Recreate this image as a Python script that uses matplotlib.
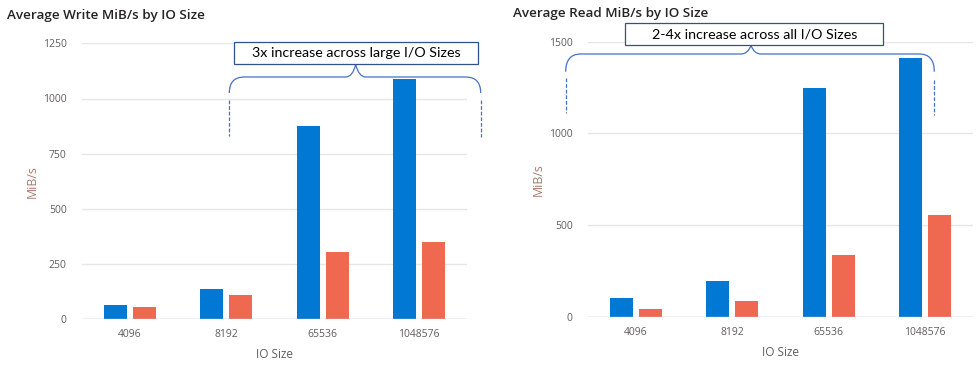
import matplotlib
matplotlib.use("Agg")
import matplotlib.pyplot as plt
import numpy as np
from matplotlib.path import Path
from matplotlib.patches import PathPatch, Rectangle

# data
io_sizes = ['4096', '8192', '65536', '1048576']
write_new = [65, 137, 875, 1088]
write_old = [56, 110, 305, 350]
read_new = [104, 196, 1248, 1411]
read_old = [44, 87, 338, 556]

BLUE = '#0078d4'
CORAL = '#ef6950'
GRID = '#e6e6e6'
TICK = '#605e5c'
W, H = 979, 373

plt.rcParams['font.family'] = ['Open Sans', 'DejaVu Sans']


def px(x0, y_top, x1, y_bot):
    # pixel box -> figure fraction rect
    return [x0 / W, 1 - y_bot / H, (x1 - x0) / W, (y_bot - y_top) / H]


def bar_chart(ax, new, old, ymax, step):
    x = np.arange(len(io_sizes))
    ax.bar(x - 0.15, new, width=0.24, color=BLUE, zorder=3)
    ax.bar(x + 0.15, old, width=0.24, color=CORAL, zorder=3)
    ax.set_xlim(-0.5, len(io_sizes) - 0.5)
    ax.set_ylim(0, ymax)
    ax.set_yticks(np.arange(0, ymax + 1, step))
    ax.set_xticks(x)
    ax.set_xticklabels(io_sizes)
    ax.tick_params(axis='both', length=0, colors=TICK, labelsize=7.5)
    ax.tick_params(axis='y', pad=11)
    ax.tick_params(axis='x', pad=7)
    ax.grid(axis='y', color=GRID, lw=1, zorder=0)
    for s in ax.spines.values():
        s.set_visible(False)
    ax.axhline(0, color='#c8c8dc', lw=1, zorder=4)
    ax.set_xlabel('IO Size', color=TICK, fontsize=8.5, labelpad=6)
    ax.set_ylabel('MiB/s', color='#a8786c', fontsize=8.8, labelpad=3)


fig = plt.figure(figsize=(W / 100, H / 100), dpi=100)
ax1 = fig.add_axes(px(82, 43.3, 467, 319.3))
bar_chart(ax1, write_new, write_old, 1250, 250)
ax2 = fig.add_axes(px(588, 41.7, 973, 317))
bar_chart(ax2, read_new, read_old, 1500, 500)

fig.text(7 / W, 1 - 16 / H, 'Average Write MiB/s by IO Size', fontsize=9.7,
         color='#252423', va='center', ha='left', fontweight='semibold')
fig.text(512.7 / W, 1 - 14 / H, 'Average Read MiB/s by IO Size', fontsize=9.7,
         color='#252423', va='center', ha='left', fontweight='semibold')

# overlay in pixel coords for the callouts
ov = fig.add_axes([0, 0, 1, 1], zorder=10)
ov.set_xlim(0, W)
ov.set_ylim(H, 0)
ov.axis('off')
ov.patch.set_alpha(0)


def brace(x0, x1, xm, y_h, y_peak, y_end, dash_left, dash_right, r=15):
    verts = [(x0, y_end), (x0, y_h), (x0 + r, y_h),
             (xm - 10, y_h), (xm - 3, y_h), (xm, y_peak),
             (xm + 3, y_h), (xm + 10, y_h),
             (x1 - r, y_h), (x1, y_h), (x1, y_end)]
    codes = [Path.MOVETO, Path.CURVE3, Path.CURVE3,
             Path.LINETO, Path.CURVE3, Path.CURVE3,
             Path.CURVE3, Path.CURVE3,
             Path.LINETO, Path.CURVE3, Path.CURVE3]
    ov.add_patch(PathPatch(Path(verts, codes), fc='none', ec='#4472c4', lw=0.9))
    for xx, (t, b) in zip((x0, x1), (dash_left, dash_right)):
        ov.plot([xx, xx], [t, b], color='#4472c4', lw=0.9, ls=(0, (3, 1.5)))


def callout(x0, y0, x1, y1, text):
    ov.add_patch(Rectangle((x0, y0), x1 - x0, y1 - y0, fc='white', ec='#2f528f', lw=0.9))
    ov.text((x0 + x1) / 2, (y0 + y1) / 2, text, ha='center', va='center',
            fontsize=10.3, family=['Lato', 'DejaVu Sans'], color='black')


brace(229.3, 480.7, 355.7, 77, 64.3, 93, (100, 136), (100, 137))
callout(234.3, 42.3, 477.7, 64.3, '3x increase across large I/O Sizes')

brace(565.7, 934.3, 751, 54, 45.3, 71.7, (78, 113), (80, 115))
callout(625.3, 23.3, 883.3, 45.3, '2-4x increase across all I/O Sizes')

fig.savefig('out.png', dpi=100)
